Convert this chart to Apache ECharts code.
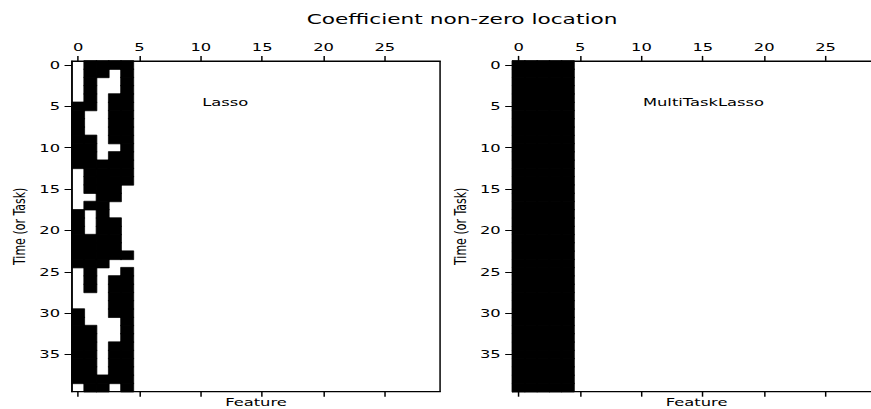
<!DOCTYPE html>
<html>
<head>
<meta charset="utf-8">
<script src="https://cdn.jsdelivr.net/npm/echarts@6/dist/echarts.min.js"></script>
<style>
  html, body { margin: 0; padding: 0; background: #fff; overflow: hidden; }
  /* reference is stretched horizontally (square spy cells became 12.3 x 8.3 px) */
  #chart { width: 587px; height: 409px; transform: scaleX(1.4837); transform-origin: 0 0; }
</style>
</head>
<body>
<div id="chart"></div>
<script>
const features = ['0','1','2','3','4','5','6','7','8','9','10','11','12','13','14',
  '15','16','17','18','19','20','21','22','23','24','25','26','27','28','29']
const tasks = ['0','1','2','3','4','5','6','7','8','9','10','11','12','13','14','15','16','17','18','19',
  '20','21','22','23','24','25','26','27','28','29','30','31','32','33','34','35','36','37','38','39']

// non-zero mask of features 0-4 for each task (features 5-29 are all zero)
const lassoMask = [
  [0,1,1,1,1], [0,1,1,0,1], [0,1,0,0,1], [0,1,0,0,1], [0,1,0,1,1],
  [1,1,0,1,1], [1,0,0,1,1], [1,0,0,1,1], [1,0,0,1,1], [1,1,0,1,1],
  [1,1,0,0,1], [1,1,0,1,1], [1,1,1,1,1], [0,1,1,1,1], [0,1,1,1,1],
  [0,1,1,1,0], [0,0,1,1,0], [0,1,1,0,0], [1,0,1,0,0], [1,0,1,1,0],
  [1,0,1,1,0], [1,1,1,1,0], [1,1,1,1,0], [1,1,1,1,1], [1,1,1,0,0],
  [0,1,0,0,1], [0,1,0,1,1], [0,1,0,1,1], [0,0,0,1,1], [0,0,0,1,1],
  [1,0,0,1,1], [1,0,0,0,1], [1,1,0,0,1], [1,1,0,0,1], [1,1,0,1,1],
  [1,1,0,1,1], [1,1,0,1,1], [1,1,0,1,1], [1,1,1,1,1], [0,1,1,0,1]
]
const multiTaskMask = [
  [1,1,1,1,1], [1,1,1,1,1], [1,1,1,1,1], [1,1,1,1,1], [1,1,1,1,1],
  [1,1,1,1,1], [1,1,1,1,1], [1,1,1,1,1], [1,1,1,1,1], [1,1,1,1,1],
  [1,1,1,1,1], [1,1,1,1,1], [1,1,1,1,1], [1,1,1,1,1], [1,1,1,1,1],
  [1,1,1,1,1], [1,1,1,1,1], [1,1,1,1,1], [1,1,1,1,1], [1,1,1,1,1],
  [1,1,1,1,1], [1,1,1,1,1], [1,1,1,1,1], [1,1,1,1,1], [1,1,1,1,1],
  [1,1,1,1,1], [1,1,1,1,1], [1,1,1,1,1], [1,1,1,1,1], [1,1,1,1,1],
  [1,1,1,1,1], [1,1,1,1,1], [1,1,1,1,1], [1,1,1,1,1], [1,1,1,1,1],
  [1,1,1,1,1], [1,1,1,1,1], [1,1,1,1,1], [1,1,1,1,1], [1,1,1,1,1]
]
const panelNames = ['Lasso', 'MultiTaskLasso']

const font = 'DejaVu Sans'

function toCells(mask) {
  let cells = []
  mask.forEach((row, r) => {
    row.forEach((v, c) => {
      if (v) cells.push([c, r, v])
    })
  })
  return cells
}

function xAxis(grid, top) {
  return {
    type: 'category',
    gridIndex: grid,
    position: top ? 'top' : 'bottom',
    data: features,
    name: top ? '' : 'Feature',
    nameLocation: 'middle',
    nameGap: 4,
    nameTextStyle: {color: '#000', fontSize: 11, lineHeight: 12, fontFamily: font},
    axisLine: {show: true, onZero: false, lineStyle: {color: '#000', width: 1}},
    axisTick: {show: true, interval: 4, alignWithLabel: true, length: 5, lineStyle: {color: '#000'}},
    axisLabel: {show: top, interval: 4, color: '#000', fontSize: 11, fontFamily: font, margin: 8},
    splitLine: {show: false}
  }
}

function yAxis(grid) {
  return {
    type: 'category',
    gridIndex: grid,
    inverse: true,
    data: tasks,
    name: 'Time (or Task)',
    nameLocation: 'middle',
    nameGap: 30,
    nameTextStyle: {color: '#000', fontSize: 11, fontFamily: font},
    axisLine: {show: true, onZero: false, lineStyle: {color: '#000', width: 1}},
    axisTick: {show: true, interval: 4, alignWithLabel: true, length: 5, lineStyle: {color: '#000'}},
    axisLabel: {interval: 4, color: '#000', fontSize: 11, fontFamily: font, margin: 8},
    splitLine: {show: false}
  }
}

const chart = echarts.init(document.getElementById('chart'), null, {renderer: 'svg'})

let option = {
  animation: false,
  backgroundColor: '#fff',
  textStyle: {fontFamily: font},
  grid: [
    {left: 48.5, top: 60.9, width: 248.1, height: 330.8, show: true, borderColor: '#000', borderWidth: 1, outerBoundsMode: 'none'},
    {left: 345.5, top: 60.9, width: 248.1, height: 330.8, show: true, borderColor: '#000', borderWidth: 1, outerBoundsMode: 'none'}
  ],
  xAxis: [xAxis(0, true), xAxis(0, false), xAxis(1, true), xAxis(1, false)],
  yAxis: [yAxis(0), yAxis(1)],
  visualMap: {
    show: false,
    type: 'piecewise',
    dimension: 2,
    pieces: [{value: 1, color: '#000'}]
  },
  series: [
    {type: 'heatmap', xAxisIndex: 0, yAxisIndex: 0, data: toCells(lassoMask),
      itemStyle: {borderColor: '#000', borderWidth: 0.6}},
    {type: 'heatmap', xAxisIndex: 2, yAxisIndex: 1, data: toCells(multiTaskMask),
      itemStyle: {borderColor: '#000', borderWidth: 0.6}}
  ]
}
chart.setOption(option)

// panel labels at data (10, 5), title on top
let p1 = chart.convertToPixel({xAxisIndex: 0, yAxisIndex: 0}, [10, 5])
let p2 = chart.convertToPixel({xAxisIndex: 2, yAxisIndex: 1}, [10, 5])
chart.setOption({
  graphic: [
    {type: 'text', x: 311.4, y: 18.5, style: {text: 'Coefficient non-zero location', fontSize: 14.6, fontFamily: font, fill: '#000', textAlign: 'center', textVerticalAlign: 'middle'}},
    {type: 'text', x: p1[0] + 1, y: p1[1] + 1, style: {text: panelNames[0], fontSize: 11, fontFamily: font, fill: '#000', textAlign: 'left', textVerticalAlign: 'bottom'}},
    {type: 'text', x: p2[0] + 1, y: p2[1] + 1, style: {text: panelNames[1], fontSize: 11, fontFamily: font, fill: '#000', textAlign: 'left', textVerticalAlign: 'bottom'}}
  ]
})
</script>
</body>
</html>
